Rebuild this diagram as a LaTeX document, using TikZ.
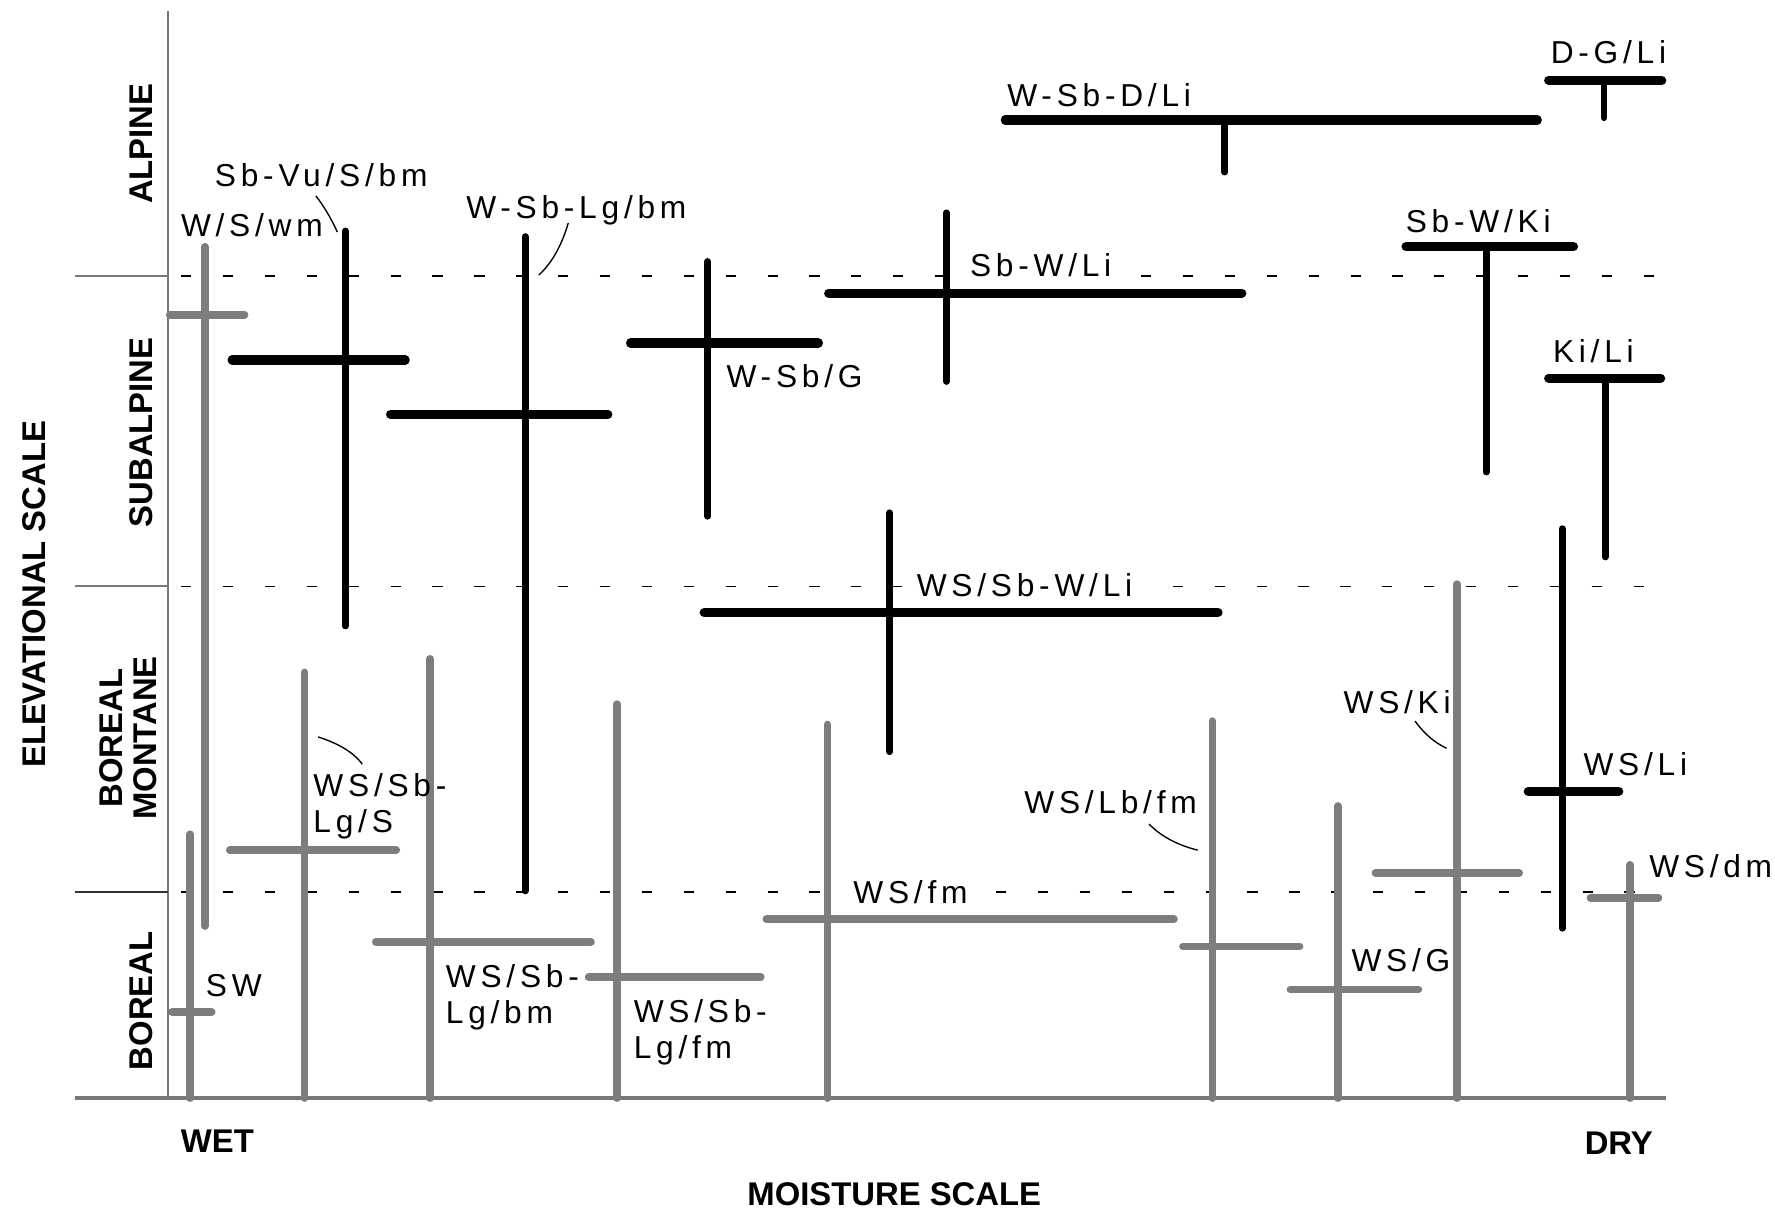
\documentclass[tikz,border=0pt]{standalone}
\usepackage{fontspec}
\setmainfont{Liberation Sans}
\newfontfamily\lblfont{Liberation Sans}[LetterSpace=15]
\usepackage{tikz}

\begin{document}
\begin{tikzpicture}[x=0.5pt,y=0.5pt,yscale=-1,xscale=1,
  graybar/.style={color={rgb, 255:red, 125; green, 125; blue, 125 }, line width=3.4pt, line cap=round},
  blackv/.style={color=black, line width=3pt, line cap=round},
  blackh/.style={color=black, line width=4pt, line cap=round},
  axisline/.style={color={rgb, 255:red, 120; green, 120; blue, 120 }, line width=0.9pt},
  zoneline/.style={color=black, line width=0.7pt, dash pattern=on 4.5pt off 14pt},
  leader/.style={color=black, line width=0.6pt},
  lbl/.style={font=\lblfont\fontsize{14}{16}\selectfont, inner sep=0.75pt},
  zonelbl/.style={font=\bfseries\fontsize{14.5}{15}\selectfont, inner sep=0.75pt}]
\useasboundingbox (0,0) rectangle (1568,1071);

%Straight Lines (axes)
\draw[axisline] (148,10) -- (148,970) ;
\draw[axisline, line width=1.5pt] (66,970) -- (1472,970) ;
\draw[axisline] (66,244) -- (148,244) ;
\draw[axisline] (66,518) -- (148,518) ;
\draw[axisline, color=black!80] (66,788) -- (148,788) ;

%Straight Lines (zone limits, broken at the labels)
\draw[zoneline] (160,244) -- (845,244) (1008,244) -- (1470,244) ;
\draw[zoneline] (160,518) -- (797,518) (1036,518) -- (1470,518) ;
\draw[zoneline] (160,788) -- (742,788) (880,788) -- (1470,788) ;

% Text Node
\draw (125,127) node [zonelbl, rotate=90] (alpine) {ALPINE};
% Text Node
\draw (125,382) node [zonelbl, rotate=90] (subalpine) {SUBALPINE};
% Text Node
\draw (113,652) node [zonelbl, rotate=90, align=center] (bormont) {BOREAL\\MONTANE};
% Text Node
\draw (125,884) node [zonelbl, rotate=90] (boreal) {BOREAL};
% Text Node
\draw (30,525) node [zonelbl, rotate=90] (elevscale) {ELEVATIONAL SCALE};
% Text Node
\draw (192,1008) node [zonelbl] (wet) {WET};
% Text Node
\draw (1430,1010) node [zonelbl] (dry) {DRY};
% Text Node
\draw (790,1055) node [zonelbl] (moistscale) {MOISTURE SCALE};

%Straight Lines (grey bars)
\draw[graybar] (181,218) -- (181,818) ;
\draw[graybar] (150,278) -- (216,278) ;
\draw[graybar] (168,737) -- (168,970) ;
\draw[graybar] (152,894) -- (187,894) ;
\draw[graybar] (269,594) -- (269,970) ;
\draw[graybar] (203,751) -- (350,751) ;
\draw[graybar] (380,582) -- (380,970) ;
\draw[graybar] (332,832) -- (522,832) ;
\draw[graybar] (545,622) -- (545,970) ;
\draw[graybar] (520,863) -- (672,863) ;
\draw[graybar] (731,640) -- (731,970) ;
\draw[graybar] (677,812) -- (1037,812) ;
\draw[graybar] (1071,637) -- (1071,970) ;
\draw[graybar] (1045,836) -- (1148,836) ;
\draw[graybar] (1182,712) -- (1182,970) ;
\draw[graybar] (1140,874) -- (1253,874) ;
\draw[graybar] (1287,516) -- (1287,970) ;
\draw[graybar] (1215,771) -- (1342,771) ;
\draw[graybar] (1440,764) -- (1440,970) ;
\draw[graybar] (1405,793) -- (1465,793) ;

%Straight Lines (black bars)
\draw[blackv] (305,204) -- (305,553) ;
\draw[blackh] (205,318) -- (358,318) ;
\draw[blackv] (464,209) -- (464,787) ;
\draw[blackh] (345,366) -- (537,366) ;
\draw[blackv] (625,231) -- (625,456) ;
\draw[blackh] (557,303) -- (723,303) ;
\draw[blackv] (836,188) -- (836,337) ;
\draw[blackh] (732,259) -- (1097,259) ;
\draw[blackh] (888,106) -- (1358,106) ;
\draw[blackv] (1082,106) -- (1082,152) ;
\draw[blackh] (1368,71) -- (1468,71) ;
\draw[blackv] (1417,71) -- (1417,104) ;
\draw[blackh] (1242,218) -- (1390,218) ;
\draw[blackv] (1313,218) -- (1313,417) ;
\draw[blackh] (1368,334) -- (1467,334) ;
\draw[blackv] (1418,334) -- (1418,492) ;
\draw[blackv] (786,453) -- (786,664) ;
\draw[blackh] (622,541) -- (1076,541) ;
\draw[blackv] (1380,467) -- (1380,820) ;
\draw[blackh] (1350,699) -- (1430,699) ;

% Text Node
\draw (158,209) node [lbl, anchor=base west] (lwswm) {W/S/wm};
% Text Node
\draw (188,165) node [lbl, anchor=base west] (lsbvu) {Sb-Vu/S/bm};
% Text Node
\draw (410,193) node [lbl, anchor=base west] (lwsblg) {W-Sb-Lg/bm};
% Text Node
\draw (640,342) node [lbl, anchor=base west] (lwsbg) {W-Sb/G};
% Text Node
\draw (855,244) node [lbl, anchor=base west] (lsbwli) {Sb-W/Li};
% Text Node
\draw (888,94) node [lbl, anchor=base west] (lwsbdli) {W-Sb-D/Li};
% Text Node
\draw (1368,56) node [lbl, anchor=base west] (ldgli) {D-G/Li};
% Text Node
\draw (1240,205) node [lbl, anchor=base west] (lsbwki) {Sb-W/Ki};
% Text Node
\draw (1370,320) node [lbl, anchor=base west] (lkili) {Ki/Li};
% Text Node
\draw (808,527) node [lbl, anchor=base west] (lwssbwli) {WS/Sb-W/Li};
% Text Node
\draw (1397,685) node [lbl, anchor=base west] (lwsli) {WS/Li};
% Text Node
\draw (275,681) node [lbl, anchor=north west, align=left] (lwssblgs) {WS/Sb-\\Lg/S};
% Text Node
\draw (392,850) node [lbl, anchor=north west, align=left] (lwssblgbm) {WS/Sb-\\Lg/bm};
% Text Node
\draw (558,881) node [lbl, anchor=north west, align=left] (lwssblgfm) {WS/Sb-\\Lg/fm};
% Text Node
\draw (752,798) node [lbl, anchor=base west] (lwsfm) {WS/fm};
% Text Node
\draw (903,719) node [lbl, anchor=base west] (lwslbfm) {WS/Lb/fm};
% Text Node
\draw (1192,858) node [lbl, anchor=base west] (lwsg) {WS/G};
% Text Node
\draw (1185,630) node [lbl, anchor=base west] (lwski) {WS/Ki};
% Text Node
\draw (1455,775) node [lbl, anchor=base west] (lwsdm) {WS/dm};
% Text Node
\draw (180,880) node [lbl, anchor=base west] (lsw) {SW};

%Curve Lines (leaders)
\coordinate (sbvu-a) at (279,173) ;
\coordinate (sbvu-b) at (298,205) ;
\draw[leader] (sbvu-a) .. controls (286,182) and (292,192) .. (sbvu-b) ;
\coordinate (wsblg-a) at (502,197) ;
\coordinate (wsblg-b) at (476,243) ;
\draw[leader] (wsblg-a) .. controls (497,214) and (489,231) .. (wsblg-b) ;
\coordinate (wssblgs-a) at (281,651) ;
\coordinate (wssblgs-b) at (320,675) ;
\draw[leader] (wssblgs-a) .. controls (297,656) and (312,664) .. (wssblgs-b) ;
\coordinate (wslbfm-a) at (1015,728) ;
\coordinate (wslbfm-b) at (1058,751) ;
\draw[leader] (wslbfm-a) .. controls (1027,740) and (1042,747) .. (wslbfm-b) ;
\coordinate (wski-a) at (1250,637) ;
\coordinate (wski-b) at (1278,661) ;
\draw[leader] (wski-a) .. controls (1258,648) and (1267,656) .. (wski-b) ;
\end{tikzpicture}
\end{document}
